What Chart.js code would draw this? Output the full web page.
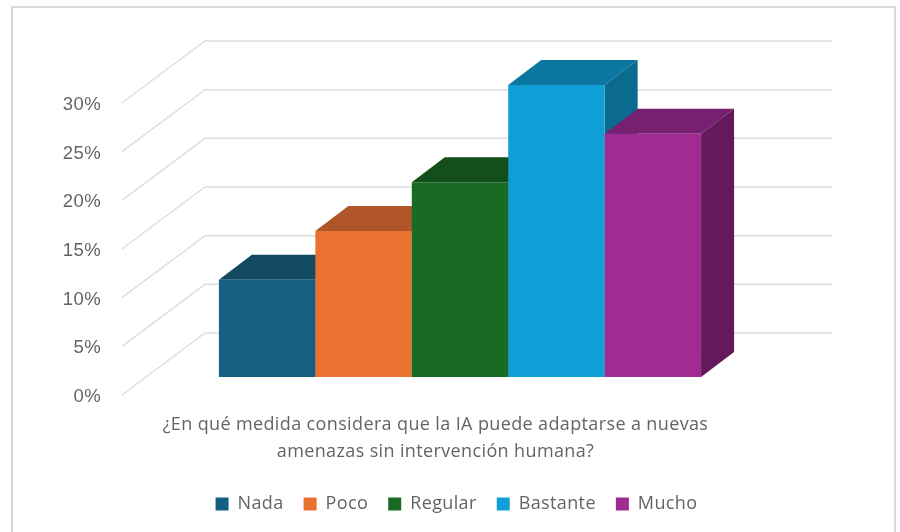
<!DOCTYPE html>
<html>
<head>
<meta charset="utf-8">
<script src="https://cdn.jsdelivr.net/npm/chart.js@4"></script>
<style>
  html, body { margin: 0; padding: 0; background: #fff; }
  canvas { display: block; }
</style>
</head>
<body>
<canvas id="iaChart" width="900" height="532"></canvas>
<script>
// Data
const questionLines = ['¿En qué medida considera que la IA puede adaptarse a nuevas', 'amenazas sin intervención humana?'];
const seriesNames = ['Nada', 'Poco', 'Regular', 'Bastante', 'Mucho'];
const seriesValues = [10, 15, 20, 30, 25];
const seriesColors = ['#156082', '#E97132', '#196B24', '#0F9ED5', '#A02B93'];
const topColors = ['#124A62', '#AF5527', '#134F1B', '#0B76A0', '#782070'];
const sideColors = ['#0F4A64', '#974A22', '#114A19', '#0A6A8F', '#64195C'];

const textColor = '#646464';
const gridColor = '#dedede';

// 3D look: wall depth, gap between front plane and bars, bar depth
const wall = { dx: 83, dy: -62 };
const barShift = { dx: 24.5, dy: -18 };
const barDepth = { dx: 33, dy: -25 };

function drawFaces(ctx, bar, i) {
    const left = bar.x - bar.width / 2;
    const right = bar.x + bar.width / 2;
    const { dx, dy } = barDepth;

    // top face
    ctx.fillStyle = topColors[i];
    ctx.beginPath();
    ctx.moveTo(left, bar.y);
    ctx.lineTo(left + dx, bar.y + dy);
    ctx.lineTo(right + dx, bar.y + dy);
    ctx.lineTo(right, bar.y);
    ctx.closePath();
    ctx.fill();

    // side face
    ctx.fillStyle = sideColors[i];
    ctx.beginPath();
    ctx.moveTo(right, bar.y);
    ctx.lineTo(right + dx, bar.y + dy);
    ctx.lineTo(right + dx, bar.base + dy);
    ctx.lineTo(right, bar.base);
    ctx.closePath();
    ctx.fill();
}

const chart3d = {
    id: 'chart3d',
    beforeLayout(chart) {
        chart.ctx.letterSpacing = '0.37px';
    },
    afterLayout(chart) {
        // the legend is centred under the whole figure, not the front plane
        chart.legend.left += 82;
        chart.legend.right += 82;
    },
    beforeDraw(chart) {
        // outer card border, runs off the bottom of the picture
        const ctx = chart.ctx;
        ctx.letterSpacing = '0.37px';
        ctx.save();
        ctx.strokeStyle = '#d9d9d9';
        ctx.lineWidth = 2;
        ctx.strokeRect(12, 7, 883, 540);
        ctx.restore();
    },
    beforeDatasetsDraw(chart) {
        const { ctx, chartArea, scales } = chart;

        // side wall and back wall grid lines
        ctx.save();
        ctx.strokeStyle = gridColor;
        ctx.lineWidth = 1.5;
        scales.y.ticks.forEach(tick => {
            const y = scales.y.getPixelForValue(tick.value);
            ctx.beginPath();
            ctx.moveTo(chartArea.left, y);
            ctx.lineTo(chartArea.left + wall.dx, y + wall.dy);
            ctx.lineTo(chartArea.right + wall.dx, y + wall.dy);
            ctx.stroke();
        });
        ctx.restore();

        // left to right so each bar covers the side of the one before it
        ctx.save();
        ctx.translate(barShift.dx, barShift.dy);
        chart.getSortedVisibleDatasetMetas().forEach(meta => {
            drawFaces(ctx, meta.data[0], meta.index);
            meta.controller.draw();
        });
        ctx.restore();
        return false;
    }
};

new Chart(document.getElementById('iaChart').getContext('2d'), {
    type: 'bar',
    plugins: [chart3d],
    data: {
        labels: [questionLines],
        datasets: seriesNames.map((name, i) => ({
            label: name,
            data: [seriesValues[i]],
            backgroundColor: seriesColors[i],
            borderWidth: 0
        }))
    },
    options: {
        responsive: false,
        animation: false,
        devicePixelRatio: 1,
        categoryPercentage: 0.769,
        barPercentage: 1,
        layout: { padding: { top: 103, right: 151, bottom: 9, left: 0 } },
        plugins: {
            title: { display: false },
            tooltip: { enabled: false },
            legend: {
                position: 'bottom',
                labels: {
                    color: textColor,
                    font: { family: '"Open Sans"', size: 18 },
                    boxWidth: 13,
                    boxHeight: 13,
                    padding: 20
                }
            }
        },
        scales: {
            x: {
                grid: { display: false },
                border: { display: false },
                ticks: {
                    color: textColor,
                    font: { family: '"Open Sans"', size: 18, lineHeight: 1.5 },
                    padding: 8,
                    maxRotation: 0,
                    autoSkip: false
                },
                afterFit(scale) { scale.height = 80; }
            },
            y: {
                min: 0,
                max: 30,
                grid: { display: false },
                border: { display: false },
                ticks: {
                    color: textColor,
                    font: { family: '"Liberation Sans"', size: 18.5 },
                    stepSize: 5,
                    padding: 13,
                    labelOffset: 2,
                    callback: v => v + '%'
                },
                afterFit(scale) { scale.width = 122; }
            }
        }
    }
});
</script>
</body>
</html>
